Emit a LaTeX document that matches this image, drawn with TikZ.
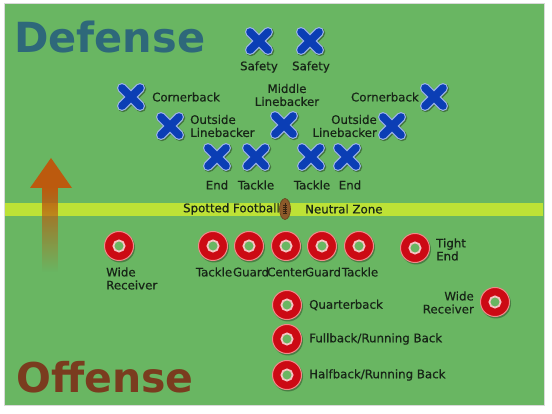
\documentclass[tikz,border=0pt]{standalone}
\usepackage{fontspec}
\setmainfont{DejaVu Sans}
\newfontfamily\lblfont[FakeBold=0.6]{DejaVu Sans}
\usetikzlibrary{fadings,shapes.geometric}
\definecolor{field}{HTML}{69B662}
\definecolor{zone}{HTML}{BDE236}
\definecolor{xblue}{HTML}{0B3EB5}
\definecolor{xlight}{HTML}{9DB4EA}
\definecolor{ored}{HTML}{CC0A14}
\definecolor{opink}{HTML}{F08A8A}
\definecolor{hring}{HTML}{F6C4C4}
\definecolor{txt}{HTML}{172517}
\definecolor{defc}{HTML}{2E687A}
\definecolor{offc}{HTML}{7A3C1F}
\definecolor{arrowc}{HTML}{BC5A0E}
\definecolor{ball}{HTML}{8C5A2A}
\tikzset{
  lbl/.style={font=\lblfont\fontsize{11.8}{13}\selectfont, text=txt, inner sep=0pt},
  defx/.pic={
    \draw[line width=10.5pt, line cap=round, black, opacity=0.35] (-8,-8)--(10,10) (-8,10)--(10,-8);
    \draw[line width=10pt, line cap=round, xlight] (-9,-9)--(9,9) (-9,9)--(9,-9);
    \draw[line width=7.6pt, line cap=round, xblue] (-9,-9)--(9,9) (-9,9)--(9,-9);
  },
  offo/.pic={
    \fill[black, opacity=0.3] (1,1.5) circle (15);
    \draw[opink, line width=1pt, fill=ored] (0,0) circle (14.5);
    \draw[hring, line width=1.8pt, fill=field] (0,0) circle (5.6);
  }
}
\begin{document}
\begin{tikzpicture}[x=1pt,y=-1pt]
\useasboundingbox (0,0) rectangle (552,414);
\fill[white] (0,0) rectangle (552,414);
\draw[field, fill=field] (5,4) rectangle (544,405);
\draw[black!15, line width=0.8pt] (4.6,3.6) rectangle (544.4,405.4);
\fill[zone] (5,203) rectangle (543,216);

% arrow
\fill[arrowc, path fading=south] (42,186) rectangle (58,272);
\fill[arrowc] (51,158) -- (72,188) -- (30,188) -- cycle;

% titles
\node[anchor=base west, inner sep=0pt, font=\bfseries\fontsize{41.5}{41}\selectfont, text=defc] (deftitle) at (14,53) {Defense};
\node[anchor=base west, inner sep=0pt, font=\bfseries\fontsize{41}{41}\selectfont, text=offc] (offtitle) at (16,392) {Offense};

% defense players
\coordinate (s1) at (259,41);
\coordinate (s2) at (310,41);
\coordinate (cbl) at (131,97);
\coordinate (cbr) at (434,97);
\coordinate (mlb) at (284,125);
\coordinate (olbl) at (170,126);
\coordinate (olbr) at (392,126);
\coordinate (del) at (217,157);
\coordinate (dtl) at (256,157);
\coordinate (dtr) at (311,157);
\coordinate (der) at (347,157);
\foreach \p in {s1,s2,cbl,cbr,mlb,olbl,olbr,del,dtl,dtr,der} {\path (\p) pic {defx};}

\node[lbl] (ls1) at (259,67) {Safety};
\node[lbl] (ls2) at (311,67) {Safety};
\node[lbl, anchor=west] (lcbl) at (152,97) {Cornerback};
\node[lbl, anchor=east] (lcbr) at (419,97) {Cornerback};
\node[lbl, align=center] (lmlb) at (287,95) {Middle\\Linebacker};
\node[lbl, align=left, anchor=west] (lolbl) at (190,126) {Outside\\Linebacker};
\node[lbl, align=right, anchor=east] (lolbr) at (377,126) {Outside\\Linebacker};
\node[lbl] (ldel) at (217,185) {End};
\node[lbl] (ldtl) at (256,185) {Tackle};
\node[lbl] (ldtr) at (312,185) {Tackle};
\node[lbl] (lder) at (350,185) {End};

% line of scrimmage
\node[lbl, anchor=east] (spot) at (280,209) {Spotted Football};
\node[lbl, anchor=west] (neutral) at (305,209) {Neutral Zone};
\node[draw=ball!70!black, fill=ball, ellipse, minimum width=11pt, minimum height=21pt, inner sep=0pt, line width=0.6pt] (fb) at (285,209) {};
\draw[ball!40!black, line width=0.7pt] (285,203.5) -- (285,214.5);
\foreach \yy in {205,207,209,211,213} {\draw[ball!40!black, line width=0.5pt] (283.3,\yy) -- (286.7,\yy);}

% offense players
\coordinate (wrl) at (119,246);
\coordinate (otl) at (213,246);
\coordinate (ogl) at (249,246);
\coordinate (oc) at (286,246);
\coordinate (ogr) at (322,246);
\coordinate (otr) at (359,246);
\coordinate (te) at (415,248);
\coordinate (wrr) at (495,302);
\coordinate (qb) at (287,305);
\coordinate (fb2) at (287,339);
\coordinate (hb) at (287,375);
\foreach \p in {wrl,otl,ogl,oc,ogr,otr,te,wrr,qb,fb2,hb} {\path (\p) pic {offo};}

\node[lbl, align=left, anchor=west] (lwrl) at (106,278.5) {Wide\\Receiver};
\node[lbl] (lotl) at (214,272) {Tackle};
\node[lbl] (logl) at (251,272) {Guard};
\node[lbl] (loc) at (287,272) {Center};
\node[lbl] (logr) at (323,272) {Guard};
\node[lbl] (lotr) at (360,272) {Tackle};
\node[lbl, align=left, anchor=west] (lte) at (436,249.5) {Tight\\End};
\node[lbl, align=right, anchor=east] (lwrr) at (474,302.5) {Wide\\Receiver};
\node[lbl, anchor=west] (lqb) at (309,305) {Quarterback};
\node[lbl, anchor=west] (lfb) at (309,339) {Fullback/Running Back};
\node[lbl, anchor=west] (lhb) at (309,375) {Halfback/Running Back};
\end{tikzpicture}
\end{document}
